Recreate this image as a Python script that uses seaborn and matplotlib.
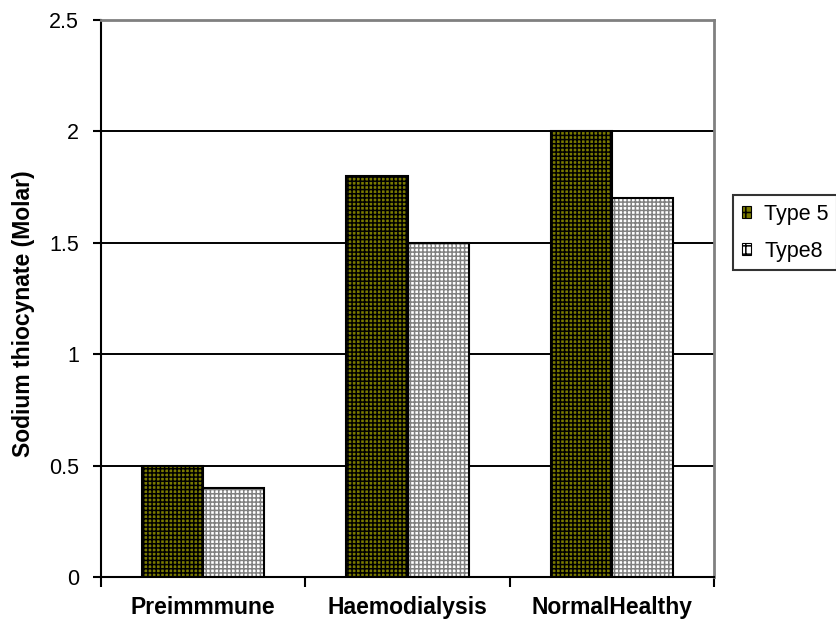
import pandas as pd
import seaborn as sns
import matplotlib.pyplot as plt
from matplotlib.patches import Rectangle

# Chart data
groups = ['Preimmmune', 'Haemodialysis', 'NormalHealthy']
type5 = [0.5, 1.8, 2.0]
type8 = [0.4, 1.5, 1.7]
series_names = ['Type 5', 'Type8']

df = pd.DataFrame({
    'group': groups * 2,
    'value': type5 + type8,
    'series': [series_names[0]] * 3 + [series_names[1]] * 3,
})

plt.rcParams['font.family'] = ['Liberation Sans', 'DejaVu Sans']
plt.rcParams['hatch.linewidth'] = 1.1

fig = plt.figure(figsize=(8.36, 6.22), dpi=100)
ax = fig.add_axes([0.1208, 0.0723, 0.7333, 0.8955])

sns.barplot(data=df, x='group', y='value', hue='series', order=groups,
            hue_order=series_names, width=0.6, ax=ax, legend=False)

# Excel-like fill patterns: face colour + hatch colour per series
styles = {
    series_names[0]: dict(face='#7a7a00', hatch='++++', hcolor='#000000'),
    series_names[1]: dict(face='#ffffff', hatch='++++', hcolor='#808080'),
}
bars = ax.patches[:6]
for i, p in enumerate(bars):
    st = styles[series_names[i // 3]]
    p.set_facecolor(st['face'])
    p.set_hatch(st['hatch'])
    p.set_edgecolor(st['hcolor'])
    p.set_linewidth(0)
    ax.add_patch(Rectangle(p.get_xy(), p.get_width(), p.get_height(),
                           fill=False, edgecolor='black', linewidth=1.5, zorder=3))

# Axes styling
ax.set_xlim(-0.5, 2.5)
ax.set_ylim(0, 2.5)
ax.set_yticks([0, 0.5, 1, 1.5, 2, 2.5])
ax.set_yticklabels(['0', '0.5', '1', '1.5', '2', '2.5'], fontsize=15.5)
ax.set_xticks(range(3))
ax.set_xticklabels(groups, fontsize=16.5, fontweight='bold')
ax.tick_params(axis='x', which='major', length=0, pad=14)
ax.set_xticks([-0.5, 0.5, 1.5, 2.5], minor=True)
ax.tick_params(axis='x', which='minor', length=7, width=1.5, direction='out')
ax.tick_params(axis='y', length=6, width=1.5, direction='out', pad=10)
for v in [0.5, 1, 1.5, 2]:
    ax.axhline(v, color='black', linewidth=1.4, zorder=0)
ax.set_xlabel('')
ax.set_ylabel('Sodium thiocynate (Molar)', fontsize=16.5, fontweight='bold', va='center')
ax.yaxis.set_label_coords(-0.126, 0.472)

ax.spines['left'].set_color('black')
ax.spines['left'].set_linewidth(1.5)
ax.spines['bottom'].set_color('black')
ax.spines['bottom'].set_linewidth(1.5)
ax.spines['top'].set_color('#808080')
ax.spines['top'].set_linewidth(2)
ax.spines['right'].set_color('#808080')
ax.spines['right'].set_linewidth(2)

# Legend
handles = [Rectangle((0, 0), 1, 1, facecolor=styles[s]['face'], hatch='++',
                     edgecolor='black', linewidth=0.8) for s in series_names]
leg = fig.legend(handles, series_names, loc='center left', bbox_to_anchor=(0.877, 0.626),
                 fontsize=15.5, frameon=True, fancybox=False, edgecolor='black',
                 handlelength=0.45, handleheight=0.45, handletextpad=0.6,
                 labelspacing=0.75, borderpad=0.4, borderaxespad=0)
leg.get_frame().set_linewidth(1.5)

fig.savefig('out.png', dpi=100)
